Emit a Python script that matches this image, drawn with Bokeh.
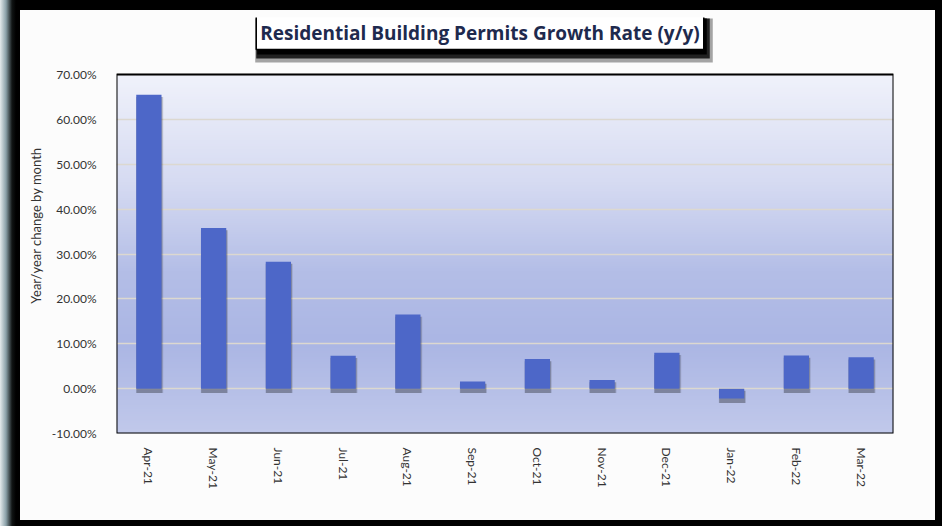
import numpy as np
from bokeh.plotting import figure
from bokeh.models import (FactorRange, Range1d, FixedTicker, PrintfTickFormatter,
                          Label, ColumnDataSource, GlobalInlineStyleSheet)
from bokeh.transform import dodge
from bokeh.embed import file_html
from bokeh.resources import INLINE

# ---- data ----
months = ["Apr-21", "May-21", "Jun-21", "Jul-21", "Aug-21", "Sep-21",
          "Oct-21", "Nov-21", "Dec-21", "Jan-22", "Feb-22", "Mar-22"]
growth = [65.5, 35.8, 28.3, 7.3, 16.5, 1.6, 6.6, 1.9, 8.0, -2.2, 7.4, 7.0]
y_ticks = [-10, 0, 10, 20, 30, 40, 50, 60, 70]
title_text = "Residential Building Permits Growth Rate (y/y)"
y_label = "Year/year change by month"

y_start, y_end = y_ticks[0], y_ticks[-1]
FONT = "Lato"
TITLE_FONT = "Open Sans"

# frame extends above the 70% line so that the title box (drawn as labels)
# lies inside the frame; the visible plot box spans y_start..y_end only
FRAME_TOP, PLOT_TOP, PLOT_BOTTOM = 7, 64, 423
px_per_unit = (PLOT_BOTTOM - PLOT_TOP) / (y_end - y_start)
y_top = y_start + (PLOT_BOTTOM - FRAME_TOP) / px_per_unit

p = figure(width=915, height=510, output_backend="svg", toolbar_location=None,
           x_range=FactorRange(*months), y_range=Range1d(y_start, y_top),
           min_border_left=96, min_border_right=42, min_border_top=FRAME_TOP,
           min_border_bottom=87)
p.stylesheets = [GlobalInlineStyleSheet(
    css="html,body{margin:0 !important;}"
        "body{background:linear-gradient(to right,#e4eaec 0px,#8aa0a8 6px,"
        "#101414 12px,#000 16px,#000 100%) !important;"
        "padding:10px 0 0 20px !important;}")]
p.styles = {"background-color": "#FCFCFC"}
p.border_fill_color = "#FCFCFC"
p.background_fill_color = "#FCFCFC"
p.outline_line_color = None

# gradient background for plot area
stops_y = np.array([0.0, 0.25, 0.45, 0.70, 1.0])
stops_c = np.array([[193, 201, 235], [171, 182, 228], [180, 190, 231],
                    [214, 219, 242], [240, 242, 251]])
n = 200
t = np.linspace(0, 1, n)
rgb = np.stack([np.interp(t, stops_y, stops_c[:, k]) for k in range(3)], axis=1)
img = np.zeros((n, 1), dtype=np.uint32)
view = img.view(dtype=np.uint8).reshape((n, 1, 4))
view[:, 0, 0] = rgb[:, 0]
view[:, 0, 1] = rgb[:, 1]
view[:, 0, 2] = rgb[:, 2]
view[:, 0, 3] = 255
p.image_rgba(image=[img], x=0, y=y_start, dw=len(months), dh=y_end - y_start,
             level="image")

# grid
p.xgrid.grid_line_color = None
p.ygrid.ticker = FixedTicker(ticks=y_ticks)
p.ygrid.grid_line_color = "#DCD8D0"
p.ygrid.grid_line_width = 1.5
p.ygrid.level = "image"

# bars with soft shadow
src = ColumnDataSource(dict(
    m=months, v=growth,
    top=[max(v, 0) for v in growth], bot=[min(v, 0) for v in growth],
    st=[max(v, 0) - 0.5 for v in growth], sb=[min(v, 0) - 1.0 for v in growth],
))
p.vbar(x=dodge("m", 0.012, range=p.x_range), top="st", bottom="sb", width=0.42,
       source=src, fill_color="black", fill_alpha=0.12, line_color=None)
p.vbar(x=dodge("m", 0.008, range=p.x_range), top="st", bottom="sb", width=0.40,
       source=src, fill_color="black", fill_alpha=0.22, line_color=None)
p.vbar(x="m", top="top", bottom="bot", width=0.39, source=src,
       fill_color="#4D67C8", line_color=None)

# plot box outline
p.quad(left=0, right=len(months), bottom=y_start, top=y_end, fill_color=None,
       line_color="black", line_width=2)

# y axis
p.yaxis.ticker = FixedTicker(ticks=y_ticks)
p.yaxis.formatter = PrintfTickFormatter(format="%.2f%%")
p.yaxis.axis_line_color = None
p.yaxis.major_tick_line_color = None
p.yaxis.minor_tick_line_color = None
p.yaxis.major_label_standoff = 14
p.yaxis.major_label_text_font = FONT
p.yaxis.major_label_text_font_size = "12px"
p.yaxis.major_label_text_color = "#333333"
p.yaxis.axis_label = y_label
p.yaxis.axis_label_text_font = FONT
p.yaxis.axis_label_text_font_style = "normal"
p.yaxis.axis_label_text_font_size = "13px"
p.yaxis.axis_label_text_color = "#333333"
p.yaxis.axis_label_standoff = 5

# x axis
p.xaxis.axis_line_color = None
p.xaxis.major_tick_line_color = None
p.xaxis.major_label_orientation = "vertical"
p.xaxis.major_label_standoff = 8
p.xaxis.major_label_text_font = FONT
p.xaxis.major_label_text_font_size = "12px"
p.xaxis.major_label_text_color = "#333333"

# title box with shadow (screen units: relative to plot frame, y up)
TX = 363.5
TY = (PLOT_BOTTOM - FRAME_TOP) - 15
for dx, dy, pad, a in [(4, -8, 9, 0.35), (3, -6, 7, 0.80), (2, -4, 5, 1.0)]:
    p.add_layout(Label(x=TX, y=TY, x_units="screen", y_units="screen",
                       x_offset=dx, y_offset=dy, text=title_text,
                       text_font=TITLE_FONT, text_font_style="bold",
                       text_font_size="19px", text_color="black",
                       text_alpha=a,
                       text_align="center", text_baseline="middle",
                       background_fill_color="black", background_fill_alpha=a,
                       padding=pad))
p.add_layout(Label(x=TX, y=TY, x_units="screen", y_units="screen",
                   text=title_text, text_font=TITLE_FONT, text_font_style="bold",
                   text_font_size="19px", text_color="#1E2A4E",
                   text_align="center", text_baseline="middle",
                   background_fill_color="white", border_line_color="black",
                   border_line_width=1.5, padding=4))

open("out.html", "w").write(file_html(p, INLINE))
